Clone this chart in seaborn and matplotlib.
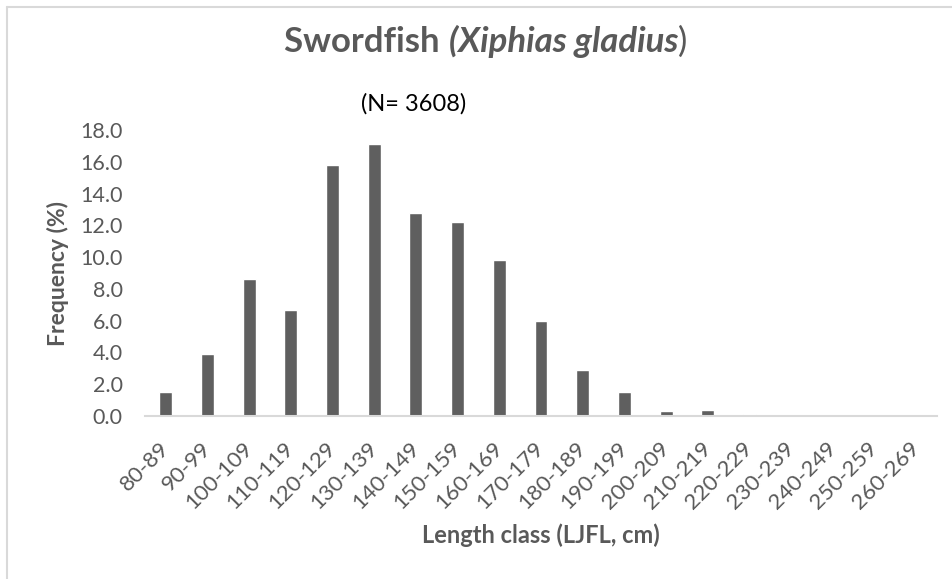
import numpy as np
import pandas as pd
import seaborn as sns
import matplotlib.pyplot as plt
from matplotlib.lines import Line2D

# Daten
laengenklassen = ["80-89", "90-99", "100-109", "110-119", "120-129", "130-139",
                  "140-149", "150-159", "160-169", "170-179", "180-189", "190-199",
                  "200-209", "210-219", "220-229", "230-239", "240-249", "250-259",
                  "260-269"]
frequenz = [1.5, 3.9, 8.6, 6.7, 15.8, 17.1, 12.8, 12.2, 9.8, 6.0, 2.9, 1.5,
            0.3, 0.4, 0.1, 0.0, 0.05, 0.0, 0.0]
y_ticks = [0, 2, 4, 6, 8, 10, 12, 14, 16, 18]

df = pd.DataFrame({"Klasse": laengenklassen, "Frequenz": frequenz})

sns.set_theme(style="white")
plt.rcParams['font.family'] = ['Lato', 'DejaVu Sans']

grau = "#595959"
fig = plt.figure(figsize=(9.52, 5.79), dpi=100)
ax = fig.add_axes([145 / 952, 1 - 416 / 579, 792 / 952, 286 / 579])

sns.barplot(data=df, x="Klasse", y="Frequenz", color="#5f5f5f", width=0.31,
            saturation=1, ax=ax)

ax.set_ylim(0, 18)
ax.set_yticks(y_ticks)
ax.set_yticklabels([f"{v:.1f}" for v in y_ticks], color=grau, fontsize=15.5)
ax.set_xticks(range(len(laengenklassen)))
ax.set_xticklabels(laengenklassen, rotation=45, ha="right", va="center",
                   rotation_mode="anchor", color=grau, fontsize=16)
ax.tick_params(axis="both", length=0)
ax.tick_params(axis="y", pad=16)
ax.tick_params(axis="x", pad=21)
ax.set_xlabel("")
ax.set_ylabel("")

for s in ["top", "right", "left"]:
    ax.spines[s].set_visible(False)
ax.spines["bottom"].set_color("#d9d9d9")
ax.spines["bottom"].set_linewidth(1.5)

# Achsentitel
fig.text(58 / 952, 1 - 273 / 579, "Frequency (%)", rotation=90, ha="center",
         va="center", fontsize=16.5, fontweight="bold", color=grau)
fig.text(541 / 952, 1 - 535 / 579, "Length class (LJFL, cm)", ha="center",
         va="center", fontsize=17, fontweight="bold", color=grau)

# Titel mit kursivem Artnamen
t1 = fig.text(0.3, 1 - 58 / 579, "Swordfish ", fontsize=25, fontweight="bold",
              color=grau, ha="left", va="bottom")
t2 = fig.text(0, 0, "(Xiphias gladius", fontsize=25, fontweight="bold",
              fontstyle="italic", color=grau, ha="left", va="bottom")
t3 = fig.text(0, 0, ")", fontsize=25, color=grau, ha="left", va="bottom")
fig.canvas.draw()
r = fig.canvas.get_renderer()
b1 = t1.get_window_extent(r)
w1 = b1.width
w2 = t2.get_window_extent(r).width
w3 = t3.get_window_extent(r).width
gesamt = w1 + w2 + w3
x0 = 486 - gesamt / 2
yb = b1.y0
t1.set_position((x0 / 952, yb / 579))
t2.set_position(((x0 + w1) / 952, yb / 579))
t3.set_position(((x0 + w1 + w2) / 952, yb / 579))

fig.text(414 / 952, 1 - 104 / 579, "(N= 3608)", ha="center", va="center",
         fontsize=17, color="black")

# Rahmen
fig.add_artist(Line2D([7 / 952, 1], [1 - 7 / 579, 1 - 7 / 579],
                      transform=fig.transFigure, color="#d9d9d9", lw=1.5))
fig.add_artist(Line2D([7 / 952, 7 / 952], [0, 1 - 7 / 579],
                      transform=fig.transFigure, color="#d9d9d9", lw=1.5))

fig.savefig("out.png", dpi=100, facecolor="white")
